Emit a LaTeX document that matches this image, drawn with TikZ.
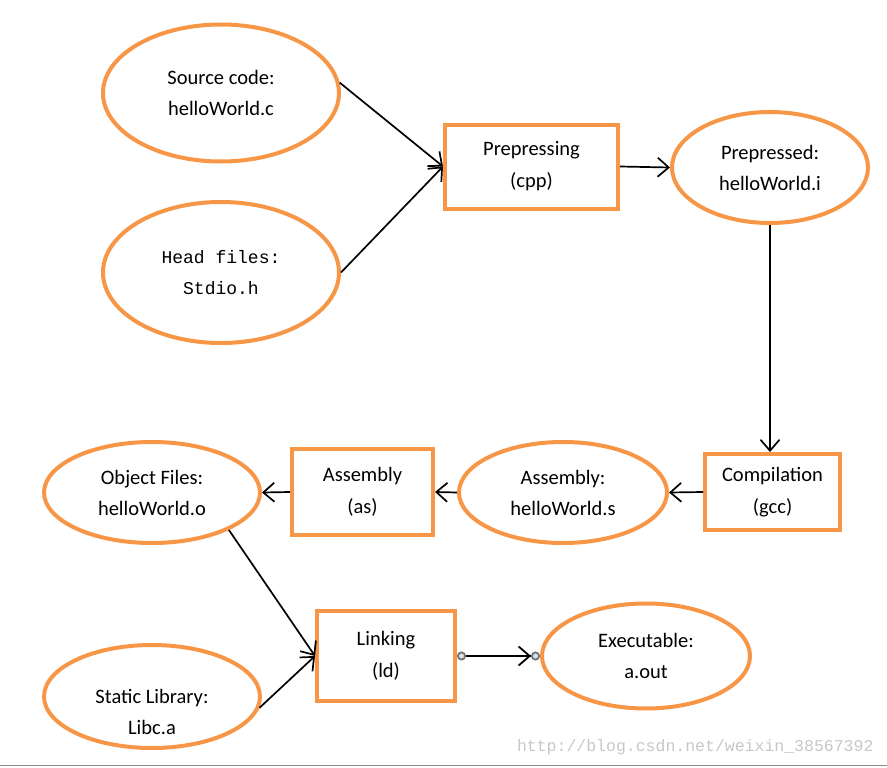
\documentclass[tikz,border=0pt]{standalone}
\usepackage{fontspec}
\setmainfont{Carlito}
\newfontfamily\codefont{Liberation Mono}
\usepackage{tikz}
\usetikzlibrary{arrows.meta, positioning, shapes.geometric}
\usepackage{xcolor}
\definecolor{stageorange}{RGB}{247,150,70}
\definecolor{dotfill}{RGB}{214,226,236}

\begin{document}
\begin{tikzpicture}[x=1pt, y=-1pt,
  file/.style={draw=stageorange, line width=4pt, ellipse, inner sep=0pt, align=center,
               font=\fontsize{20.5}{31}\selectfont},
  stage/.style={draw=stageorange, line width=4pt, rectangle, inner sep=0pt, align=center,
                font=\fontsize{20.5}{32}\selectfont},
  flow/.style={line width=1.7pt, -{Straight Barb[length=11pt, width=19pt]}},
  watermark/.style={font=\fontsize{16.5}{18}\selectfont\codefont, text=black!22}
]
  \useasboundingbox (0,0) rectangle (887,768);

  % top row
  \node[file, minimum width=236, minimum height=137] (src) at (221,93) {Source code:\\helloWorld.c};
  \node[file, minimum width=236, minimum height=141, font=\fontsize{18}{31}\selectfont\codefont] (hdr) at (221,272.5) {Head files:\\Stdio.h};
  \node[stage, minimum width=173, minimum height=84] (pre) at (531.5,166.5) {Prepressing\\(cpp)};
  \node[file, minimum width=196, minimum height=111] (ppd) at (770,167.5) {Prepressed:\\helloWorld.i};

  % middle row, right to left
  \node[stage, minimum width=135, minimum height=76] (cmp) at (772.5,492) {Compilation\\(gcc)};
  \node[file, minimum width=208, minimum height=101] (asf) at (563,492.5) {Assembly:\\helloWorld.s};
  \node[stage, minimum width=141, minimum height=86] (asb) at (362.5,492) {Assembly\\(as)};
  \node[file, minimum width=216, minimum height=101] (obj) at (152,492.5) {Object Files:\\helloWorld.o};

  % bottom row
  \node[stage, minimum width=138, minimum height=90] (lnk) at (386,656) {Linking\\(ld)};
  \node[file, minimum width=216, minimum height=103] (lib) at (152,696.5) {};
  \node[align=center, font=\fontsize{20.5}{31}\selectfont] (libtxt) at (152,712) {Static Library:\\Libc.a};
  \node[file, minimum width=208, minimum height=105] (exe) at (646,656) {Executable:\\a.out};

  \draw[flow] (src.5) -- (pre.west);
  \draw[flow] (hdr.east) -- (pre.west);
  \draw[flow] (pre.east) -- (ppd.west);
  \draw[flow] (ppd.south) -- (ppd.south |- cmp.north);
  \draw[flow] (cmp.west) -- (asf.east);
  \draw[flow] (asf.west) -- (asb.east);
  \draw[flow] (asb.west) -- (obj.east);
  \draw[flow] (obj.-26) -- (lnk.west);
  \draw[flow] (lib.-6) -- (lnk.west);
  \draw[line width=1.8pt, {Circle[length=9pt, fill=dotfill, color=black!55]}-{Straight Barb[length=11pt, width=19pt] Circle[length=9pt, fill=dotfill, color=black!55]}]
    (lnk.east) -- (exe.west);

  \node[watermark, anchor=east] (url) at (877,747) {http://blog.csdn.net/weixin\_38567392};
  \draw[black!45, line width=1.5pt] (0,765.5) -- (887,765.5);
\end{tikzpicture}
\end{document}
